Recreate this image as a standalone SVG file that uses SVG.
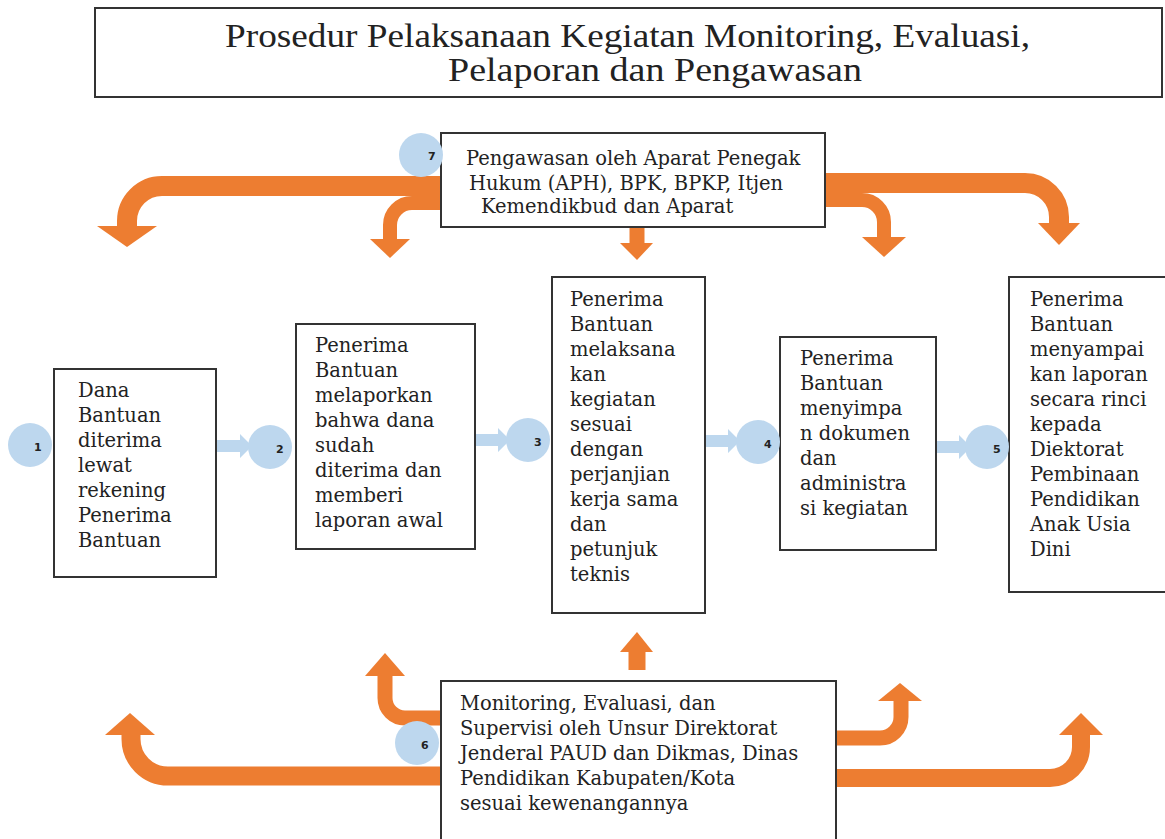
<svg xmlns="http://www.w3.org/2000/svg" width="1165" height="839" viewBox="0 0 1165 839">
<style>
.box{fill:#fff;stroke:#333;stroke-width:2}
.t{font-family:"DejaVu Serif",serif;font-size:19.5px;fill:#222}
.title{font-family:"Liberation Serif",serif;font-size:33px;fill:#222}
.or{fill:none;stroke:#ED7D31;stroke-linejoin:round}
.oh{fill:#ED7D31}
.bl{fill:#BDD7EE}
.num{font-family:"DejaVu Sans",sans-serif;font-size:11px;font-weight:bold;fill:#222}
</style>
<rect width="1165" height="839" fill="#fff"/>
<g id="title">
<rect class="box" x="95" y="8" width="1067" height="89"/>
<text class="title" x="225" y="47" textLength="805" lengthAdjust="spacingAndGlyphs">Prosedur Pelaksanaan Kegiatan Monitoring, Evaluasi,</text>
<text class="title" x="448" y="81" textLength="414" lengthAdjust="spacingAndGlyphs">Pelaporan dan Pengawasan</text>
</g>
<g id="connectors">
<path class="or" stroke-width="20" d="M441,186 H162 A35,35 0 0 0 127,221 V228"/>
<polygon class="oh" points="97,226 157,226 127,247"/>
<path class="or" stroke-width="14" d="M441,203 H412 A22,22 0 0 0 390,225 V240"/>
<polygon class="oh" points="370,239 410,239 390,258"/>
<path class="or" stroke-width="14" d="M825,200 H862 A22,22 0 0 1 884,222 V238"/>
<polygon class="oh" points="862,237 906,237 884,257"/>
<path class="or" stroke-width="20" d="M825,183 H1025 A34,34 0 0 1 1059,217 V224"/>
<polygon class="oh" points="1038,223 1080,223 1059,245"/>
<path class="or" stroke-width="15" d="M637,227 V244"/>
<polygon class="oh" points="620,243 653,243 637,260"/>
<path class="or" stroke-width="19" d="M441,776 H168 A37,37 0 0 1 131,739 V734"/>
<polygon class="oh" points="105,735 155,735 130,713"/>
<path class="or" stroke-width="15" d="M441,718 H405 A20,20 0 0 1 385,698 V675"/>
<polygon class="oh" points="365,676 405,676 385,653"/>
<path class="or" stroke-width="15" d="M836,738 H880 A21,21 0 0 0 901,717 V700"/>
<polygon class="oh" points="878,701 922,701 900,683"/>
<path class="or" stroke-width="18" d="M836,778 H1050 A31,31 0 0 0 1081,747 V734"/>
<polygon class="oh" points="1059,735 1103,735 1081,713"/>
<path class="or" stroke-width="17" d="M637,670 V651"/>
<polygon class="oh" points="620,652 653,652 637,632"/>
<polygon class="bl" points="217,440 240,440 240,434 252,446 240,458 240,452 217,452"/>
<polygon class="bl" points="475,434 498,434 498,428 510,440 498,452 498,446 475,446"/>
<polygon class="bl" points="705,435 728,435 728,429 740,441 728,453 728,447 705,447"/>
<polygon class="bl" points="936,441 959,441 959,435 971,447 959,459 959,453 936,453"/>
</g>
<g id="node7">
<rect class="box" x="441" y="133" width="384" height="94"/>
<text class="t"><tspan x="466" y="165">Pengawasan oleh Aparat Penegak</tspan><tspan x="469" y="190">Hukum (APH), BPK, BPKP, Itjen</tspan><tspan x="481" y="213">Kemendikbud dan Aparat</tspan></text>
<circle class="bl" cx="421" cy="155" r="22"/>
<text class="num" x="428" y="160">7</text>
</g>
<g id="node1">
<rect class="box" x="54" y="369" width="162" height="208"/>
<text class="t"><tspan x="78" y="397">Dana</tspan><tspan x="78" y="422">Bantuan</tspan><tspan x="78" y="447">diterima</tspan><tspan x="78" y="472">lewat</tspan><tspan x="78" y="497">rekening</tspan><tspan x="78" y="522">Penerima</tspan><tspan x="78" y="547">Bantuan</tspan></text>
<circle class="bl" cx="30" cy="445" r="22"/>
<text class="num" x="34" y="451">1</text>
</g>
<g id="node2">
<rect class="box" x="296" y="324" width="179" height="225"/>
<text class="t"><tspan x="315" y="352">Penerima</tspan><tspan x="315" y="377">Bantuan</tspan><tspan x="315" y="402">melaporkan</tspan><tspan x="315" y="427">bahwa dana</tspan><tspan x="315" y="452">sudah</tspan><tspan x="315" y="477">diterima dan</tspan><tspan x="315" y="502">memberi</tspan><tspan x="315" y="527">laporan awal</tspan></text>
<circle class="bl" cx="270" cy="447" r="22"/>
<text class="num" x="276" y="453">2</text>
</g>
<g id="node3">
<rect class="box" x="552" y="277" width="153" height="336"/>
<text class="t"><tspan x="570" y="306">Penerima</tspan><tspan x="570" y="331">Bantuan</tspan><tspan x="570" y="356">melaksana</tspan><tspan x="570" y="381">kan</tspan><tspan x="570" y="406">kegiatan</tspan><tspan x="570" y="431">sesuai</tspan><tspan x="570" y="456">dengan</tspan><tspan x="570" y="481">perjanjian</tspan><tspan x="570" y="506">kerja sama</tspan><tspan x="570" y="531">dan</tspan><tspan x="570" y="556">petunjuk</tspan><tspan x="570" y="581">teknis</tspan></text>
<circle class="bl" cx="528" cy="440" r="22"/>
<text class="num" x="534" y="446">3</text>
</g>
<g id="node4">
<rect class="box" x="780" y="337" width="156" height="213"/>
<text class="t"><tspan x="800" y="365">Penerima</tspan><tspan x="800" y="390">Bantuan</tspan><tspan x="800" y="415">menyimpa</tspan><tspan x="800" y="440">n dokumen</tspan><tspan x="800" y="465">dan</tspan><tspan x="800" y="490">administra</tspan><tspan x="800" y="515">si kegiatan</tspan></text>
<circle class="bl" cx="758" cy="442" r="22"/>
<text class="num" x="764" y="448">4</text>
</g>
<g id="node5">
<rect class="box" x="1009" y="277" width="160" height="315"/>
<text class="t"><tspan x="1030" y="306">Penerima</tspan><tspan x="1030" y="331">Bantuan</tspan><tspan x="1030" y="356">menyampai</tspan><tspan x="1030" y="381">kan laporan</tspan><tspan x="1030" y="406">secara rinci</tspan><tspan x="1030" y="431">kepada</tspan><tspan x="1030" y="456">Diektorat</tspan><tspan x="1030" y="481">Pembinaan</tspan><tspan x="1030" y="506">Pendidikan</tspan><tspan x="1030" y="531">Anak Usia</tspan><tspan x="1030" y="556">Dini</tspan></text>
<circle class="bl" cx="987" cy="447" r="22"/>
<text class="num" x="993" y="453">5</text>
</g>
<g id="node6">
<rect class="box" x="441" y="681" width="395" height="170"/>
<text class="t"><tspan x="460" y="710">Monitoring, Evaluasi, dan</tspan><tspan x="460" y="735">Supervisi oleh Unsur Direktorat</tspan><tspan x="460" y="760">Jenderal PAUD dan Dikmas, Dinas</tspan><tspan x="460" y="785">Pendidikan Kabupaten/Kota</tspan><tspan x="460" y="810">sesuai kewenangannya</tspan></text>
<circle class="bl" cx="417" cy="743" r="22"/>
<text class="num" x="421" y="749">6</text>
</g>
</svg>
